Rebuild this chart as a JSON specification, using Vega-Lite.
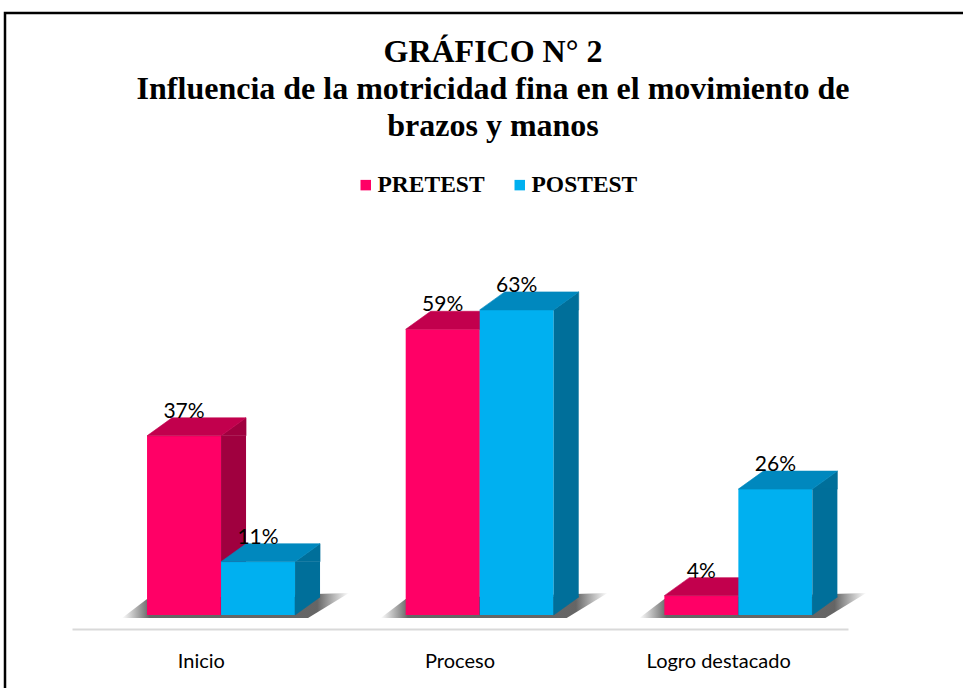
{
  "$schema": "https://vega.github.io/schema/vega-lite/v6.json",
  "width": 960,
  "height": 677,
  "autosize": {"type": "none"},
  "padding": {"left": 5, "top": 13, "right": 0, "bottom": 0},
  "background": "#ffffff",
  "view": {"stroke": "#000000", "strokeWidth": 2.5, "fill": "#ffffff"},
  "title": {
    "text": ["GRÁFICO N° 2", "Influencia de la motricidad fina en el movimiento de", "brazos y manos"],
    "anchor": "middle",
    "frame": "group",
    "baseline": "alphabetic",
    "offset": -155,
    "dx": 8,
    "lineHeight": 37,
    "font": "Liberation Serif",
    "fontSize": 32,
    "fontWeight": "bold",
    "color": "#000000"
  },
  "data": {
    "values": [
      {"categoria": "Inicio", "serie": "PRETEST", "valor": 0.37},
      {"categoria": "Inicio", "serie": "POSTEST", "valor": 0.11},
      {"categoria": "Proceso", "serie": "PRETEST", "valor": 0.59},
      {"categoria": "Proceso", "serie": "POSTEST", "valor": 0.63},
      {"categoria": "Logro destacado", "serie": "PRETEST", "valor": 0.04},
      {"categoria": "Logro destacado", "serie": "POSTEST", "valor": 0.26}
    ]
  },
  "encoding": {
    "x": {
      "field": "categoria",
      "type": "nominal",
      "sort": ["Inicio", "Proceso", "Logro destacado"],
      "scale": {"type": "band", "range": [67, 843], "paddingInner": 0, "paddingOuter": 0},
      "axis": {
        "title": null,
        "orient": "bottom",
        "offset": -61,
        "domainColor": "#d9d9d9",
        "domainWidth": 2,
        "ticks": false,
        "tickSize": 0,
        "labelPadding": 38,
        "labelBaseline": "alphabetic",
        "labelAngle": 0,
        "labelFont": "Lato",
        "labelFontSize": 20,
        "labelColor": "#000000",
        "grid": false
      }
    },
    "y": {
      "field": "valor",
      "type": "quantitative",
      "scale": {"domain": [0, 0.7], "range": [602, 263], "nice": false},
      "axis": null
    }
  },
  "layer": [
    {
      "transform": [{"filter": "datum.serie === 'PRETEST'"}],
      "mark": {
        "type": "point",
        "shape": "M-62,3L-37,-16L165,-22L124,3Z",
        "size": 4,
        "filled": true,
        "opacity": 1,
        "strokeWidth": 0,
        "xOffset": -17.3,
        "fill": {
          "gradient": "linear",
          "x1": 0, "y1": 0, "x2": 1, "y2": 0,
          "stops": [
            {"offset": 0, "color": "rgba(60,60,60,0)"},
            {"offset": 0.12, "color": "rgba(50,50,50,0.75)"},
            {"offset": 0.86, "color": "rgba(50,50,50,0.75)"},
            {"offset": 1, "color": "rgba(60,60,60,0)"}
          ]
        }
      },
      "encoding": {"y": {"datum": 0, "type": "quantitative"}}
    },
    {
      "transform": [{"filter": "datum.serie === 'PRETEST'"}],
      "mark": {"type": "bar", "width": 74, "xOffset": -17.3},
      "encoding": {
        "color": {
          "field": "serie",
          "type": "nominal",
          "scale": {"domain": ["PRETEST", "POSTEST"], "range": ["#FF0066", "#00B0F0"]},
          "legend": {
            "orient": "none",
            "legendX": 349,
            "legendY": 160,
            "direction": "horizontal",
            "title": null,
            "symbolType": "square",
            "symbolSize": 110,
            "symbolStrokeWidth": 0,
            "symbolOpacity": 1,
            "labelFont": "Liberation Serif",
            "labelFontSize": 23.5,
            "labelFontWeight": "bold",
            "labelColor": "#000000",
            "labelOffset": 0,
            "columnPadding": 23,
            "padding": 0
          }
        }
      }
    },
    {
      "transform": [{"filter": "datum.serie === 'PRETEST'"}],
      "mark": {"type": "bar", "width": 25, "xOffset": 32.2, "color": "#A0003F", "y2Offset": -18},
      "encoding": {"y2": {"datum": 0}}
    },
    {
      "transform": [{"filter": "datum.serie === 'PRETEST'"}],
      "mark": {"type": "point", "shape": "M37,0L62,-18L62,0Z", "size": 4, "filled": true, "opacity": 1, "color": "#A0003F", "stroke": "#A0003F", "strokeWidth": 0.6, "xOffset": -17.3}
    },
    {
      "transform": [{"filter": "datum.serie === 'PRETEST'"}],
      "mark": {"type": "point", "shape": "M37,0L37,-18L62,-18Z", "size": 4, "filled": true, "opacity": 1, "color": "#A0003F", "stroke": "#A0003F", "strokeWidth": 0.6, "xOffset": -17.3},
      "encoding": {"y": {"datum": 0, "type": "quantitative"}}
    },
    {
      "transform": [{"filter": "datum.serie === 'PRETEST'"}],
      "mark": {"type": "point", "shape": "M-37,0L37,0L62,-18L-12,-18Z", "size": 4, "filled": true, "opacity": 1, "color": "#C2004D", "stroke": "#C2004D", "strokeWidth": 0.6, "xOffset": -17.3}
    },
    {
      "transform": [{"filter": "datum.serie === 'POSTEST'"}],
      "mark": {"type": "bar", "width": 74, "xOffset": 56.7},
      "encoding": {"color": {"field": "serie", "type": "nominal"}}
    },
    {
      "transform": [{"filter": "datum.serie === 'POSTEST'"}],
      "mark": {"type": "bar", "width": 25, "xOffset": 106.2, "color": "#006F9A", "y2Offset": -18},
      "encoding": {"y2": {"datum": 0}}
    },
    {
      "transform": [{"filter": "datum.serie === 'POSTEST'"}],
      "mark": {"type": "point", "shape": "M37,0L62,-18L62,0Z", "size": 4, "filled": true, "opacity": 1, "color": "#006F9A", "stroke": "#006F9A", "strokeWidth": 0.6, "xOffset": 56.7}
    },
    {
      "transform": [{"filter": "datum.serie === 'POSTEST'"}],
      "mark": {"type": "point", "shape": "M37,0L37,-18L62,-18Z", "size": 4, "filled": true, "opacity": 1, "color": "#006F9A", "stroke": "#006F9A", "strokeWidth": 0.6, "xOffset": 56.7},
      "encoding": {"y": {"datum": 0, "type": "quantitative"}}
    },
    {
      "transform": [{"filter": "datum.serie === 'POSTEST'"}],
      "mark": {"type": "point", "shape": "M-37,0L37,0L62,-18L-12,-18Z", "size": 4, "filled": true, "opacity": 1, "color": "#0088BE", "stroke": "#0088BE", "strokeWidth": 0.6, "xOffset": 56.7}
    },
    {
      "transform": [{"filter": "datum.serie === 'PRETEST'"}],
      "mark": {"type": "text", "font": "Lato", "fontSize": 21, "baseline": "alphabetic", "dy": -18, "xOffset": -17.3, "color": "#000000"},
      "encoding": {"text": {"field": "valor", "type": "quantitative", "format": ".0%"}}
    },
    {
      "transform": [{"filter": "datum.serie === 'POSTEST'"}],
      "mark": {"type": "text", "font": "Lato", "fontSize": 21, "baseline": "alphabetic", "dy": -18, "xOffset": 56.7, "color": "#000000"},
      "encoding": {"text": {"field": "valor", "type": "quantitative", "format": ".0%"}}
    }
  ]
}
